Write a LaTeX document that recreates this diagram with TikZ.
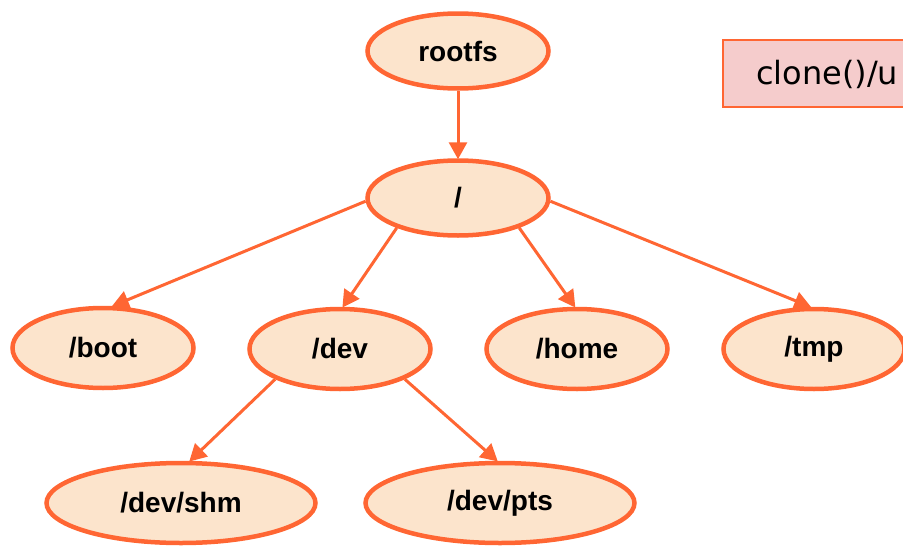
\documentclass[tikz,border=0pt]{standalone}
\usepackage{fontspec}
\setmainfont{Liberation Sans}
\newfontfamily\boxfont{DejaVu Sans}
\usetikzlibrary{arrows.meta,shapes.geometric}
\definecolor{edgeor}{HTML}{FF6633}
\definecolor{nodefill}{HTML}{FCE4CC}
\definecolor{boxfill}{HTML}{F5CCCC}
\tikzset{
  fsnode/.style={ellipse, draw=edgeor, fill=nodefill, line width=4.5pt, inner sep=0pt,
    minimum width=181pt, minimum height=75pt, font=\fontsize{28}{33}\selectfont\bfseries},
  widenode/.style={fsnode, minimum width=269pt, minimum height=80pt},
  conn/.style={draw=edgeor, line width=3pt, -{Triangle[length=17pt,width=18pt]}, shorten >=-1pt},
}
\begin{document}
\begin{tikzpicture}[x=1pt,y=-1pt]
\useasboundingbox (0,0) rectangle (903,549);
\clip (0,0) rectangle (903,549);
\node[fsnode] (rootfs) at (458,51) {rootfs};
\node[fsnode] (slash) at (458,198) {/};
\node[fsnode, minimum height=80pt] (boot) at (103,348) {/boot};
\node[fsnode, minimum height=80pt] (dev) at (340,349) {/dev};
\node[fsnode, minimum height=80pt] (home) at (577,349) {/home};
\node[fsnode, minimum height=80pt] (tmp) at (814,349) {/tmp};
\node[widenode] (shm) at (181,503) {/dev/shm};
\node[widenode] (pts) at (500,503) {/dev/pts};
\draw[fill=boxfill, draw=edgeor, line width=1.5pt] (723,40) rectangle (960,107);
\node[anchor=west, inner sep=0pt, font=\boxfont\fontsize{32}{38}\selectfont] (clonebox) at (756,74) {clone()/u};
\draw[conn] (rootfs.south) -- (slash.north);
\draw[conn] (slash.182) -- (boot.77);
\draw[conn] (slash.206) -- (dev.86);
\draw[conn] (slash.334) -- (home.93);
\draw[conn] (slash.358) -- (tmp.95);
\draw[conn] (dev.205) -- (shm.78);
\draw[conn] (dev.335) -- (pts.94);
\end{tikzpicture}
\end{document}
